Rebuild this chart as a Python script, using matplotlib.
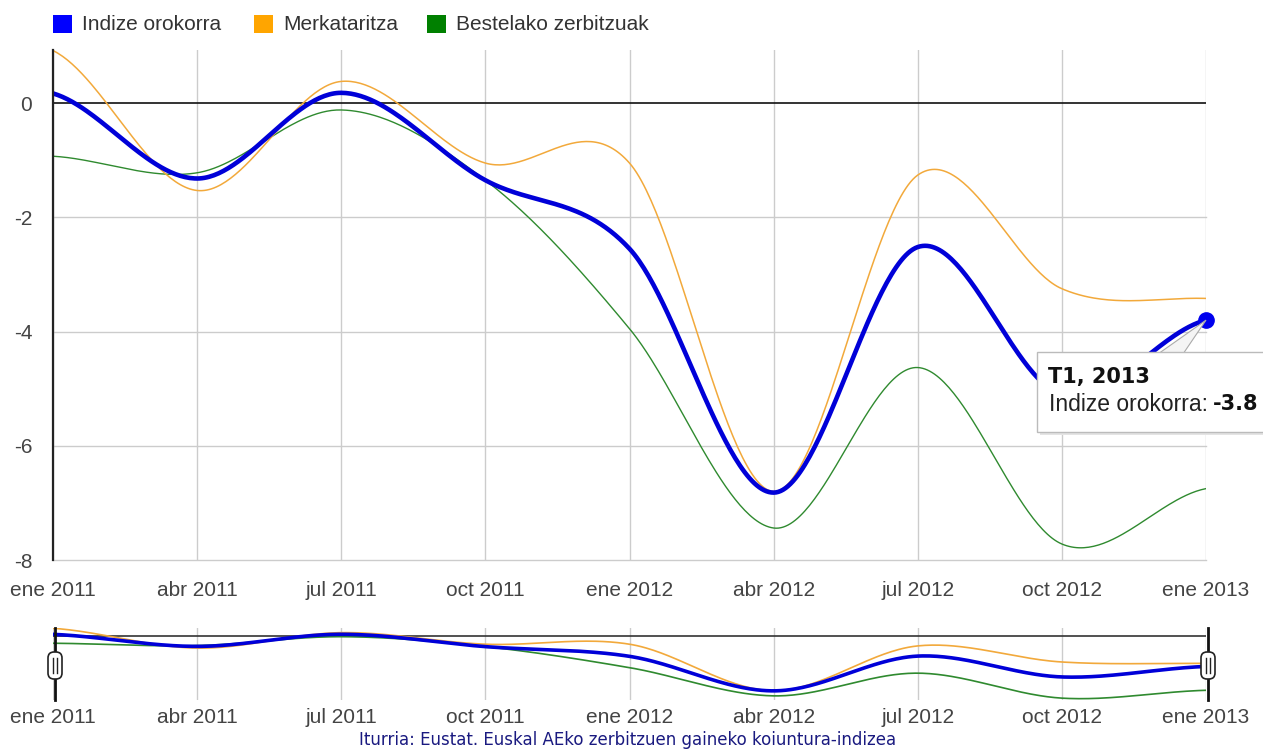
import numpy as np
import matplotlib
matplotlib.use('Agg')
import matplotlib.pyplot as plt
from matplotlib.patches import Rectangle, FancyBboxPatch, Polygon

plt.rcParams['axes.unicode_minus'] = False

# ---------------- data ----------------
quarters = ['ene 2011', 'abr 2011', 'jul 2011', 'oct 2011', 'ene 2012',
            'abr 2012', 'jul 2012', 'oct 2012', 'ene 2013']
indize = [0.17, -1.32, 0.18, -1.35, -2.55, -6.82, -2.52, -5.10, -3.80]
merkataritza = [0.92, -1.53, 0.38, -1.05, -1.05, -6.80, -1.26, -3.25, -3.42]
bestelako = [-0.93, -1.22, -0.12, -1.35, -3.95, -7.44, -4.63, -7.72, -6.75]
series_names = ['Indize orokorra', 'Merkataritza', 'Bestelako zerbitzuak']
yticks = [0, -2, -4, -6, -8]
tooltip_title = 'T1, 2013'
tooltip_value = -3.8
source = 'Iturria: Eustat. Euskal AEko zerbitzuen gaineko koiuntura-indizea'

legend_colors = ['#0000ff', '#ffa500', '#008000']
line_colors = ['#0000d8', '#f2a93b', '#2f8a2f']

W, H = 1263, 753
fig = plt.figure(figsize=(W / 100, H / 100), dpi=100)


def smooth(vals, n=60):
    """Catmull-Rom curve through the data points (like curveType 'function')."""
    y = np.asarray(vals, float)
    k = len(y)
    ext = np.concatenate([[y[0]], y, [y[-1]]])
    xs, ys = [], []
    for i in range(k - 1):
        p0, p1, p2, p3 = ext[i], ext[i + 1], ext[i + 2], ext[i + 3]
        m1 = (p2 - p0) / 2.0
        m2 = (p3 - p1) / 2.0
        t = np.linspace(0, 1, n, endpoint=(i == k - 2))
        h00 = 2 * t**3 - 3 * t**2 + 1
        h10 = t**3 - 2 * t**2 + t
        h01 = -2 * t**3 + 3 * t**2
        h11 = t**3 - t**2
        xs.append(i + t)
        ys.append(h00 * p1 + h10 * m1 + h01 * p2 + h11 * m2)
    return np.concatenate(xs), np.concatenate(ys)


def px_axes(left, top, right, bottom):
    return fig.add_axes([left / W, 1 - bottom / H, (right - left) / W, (bottom - top) / H])


x_idx = np.arange(len(quarters))
ylim = (-8, 0.93)
tick_color = '#444444'
font = 'Liberation Sans'

# ---------------- main chart ----------------
ax = px_axes(53, 50, 1206, 560)
ax.set_xlim(0, len(quarters) - 1)
ax.set_ylim(*ylim)
for xv in x_idx:
    ax.axvline(xv, color='#cccccc', lw=1, zorder=1)
for yv in yticks[1:]:
    ax.axhline(yv, color='#cccccc', lw=1, zorder=1, clip_on=False)
ax.axhline(0, color='#111111', lw=1.2, zorder=2)

all_series = [indize, merkataritza, bestelako]
widths = [3.3, 1.1, 1.0]
zorders = [5, 4, 3]
for vals, c, lw, z in zip(all_series, line_colors, widths, zorders):
    sx, sy = smooth(vals)
    ax.plot(sx, sy, color=c, lw=lw, zorder=z, solid_capstyle='round')

ax.plot([x_idx[-1]], [tooltip_value], 'o', color='#0000ee', ms=11, zorder=20, clip_on=False)

ax.set_xticks(x_idx)
ax.set_xticklabels(quarters)
ax.set_yticks(yticks)
ax.set_yticklabels([str(v) for v in yticks])
ax.tick_params(axis='x', length=0, pad=15, labelsize=15, labelcolor=tick_color)
ax.tick_params(axis='y', length=0, pad=15, labelsize=15, labelcolor=tick_color)
for lab in ax.get_xticklabels() + ax.get_yticklabels():
    lab.set_fontfamily(font)
for s in ['top', 'right', 'bottom']:
    ax.spines[s].set_visible(False)
ax.spines['left'].set_color('#222222')
ax.spines['left'].set_linewidth(1.6)
ax.spines['left'].set_zorder(6)

# ---------------- navigator ----------------
nav = px_axes(53, 628.2, 1206, 700.4)
nav.set_xlim(0, len(quarters) - 1)
nav.set_ylim(*ylim)
for xv in x_idx:
    nav.axvline(xv, color='#cccccc', lw=1, zorder=1)
nav.axhline(0, color='#333333', lw=1.2, zorder=2)
nwidths = [2.6, 1.2, 1.2]
for vals, c, lw, z in zip(all_series, line_colors, nwidths, zorders):
    sx, sy = smooth(vals)
    nav.plot(sx, sy, color=c, lw=lw, zorder=z)
nav.set_xticks(x_idx)
nav.set_xticklabels(quarters)
nav.set_yticks([])
nav.tick_params(axis='x', length=0, pad=5.5, labelsize=15, labelcolor=tick_color)
for lab in nav.get_xticklabels():
    lab.set_fontfamily(font)
for s in nav.spines.values():
    s.set_visible(False)

# ---------------- overlay (pixel coordinates) ----------------
ov = fig.add_axes([0, 0, 1, 1], zorder=50)
ov.set_xlim(0, W)
ov.set_ylim(H, 0)
ov.axis('off')
ov.patch.set_alpha(0)

# legend
leg_x = [53, 254, 427]
for name, c, lx in zip(series_names, legend_colors, leg_x):
    ov.add_patch(Rectangle((lx, 15), 19, 18, color=c, lw=0))
    ov.text(lx + 29, 24, name, fontsize=15, family=font, color='#333333',
            va='center', ha='left')

# navigator handles
for hx in [55, 1208]:
    ov.plot([hx, hx], [628, 700], color='#111111', lw=2, zorder=1)
    ov.add_patch(FancyBboxPatch((hx - 7, 652), 14, 27,
                                boxstyle='round,pad=0,rounding_size=6',
                                fc='white', ec='#222222', lw=1.2, zorder=2))
    ov.plot([hx - 2, hx - 2], [658, 673], color='#222222', lw=1, zorder=3)
    ov.plot([hx + 2, hx + 2], [658, 673], color='#222222', lw=1, zorder=3)

# tooltip
dot_disp = ax.transData.transform((x_idx[-1], tooltip_value))
dot_x, dot_y = dot_disp[0], H - dot_disp[1]
ov.add_patch(Polygon([[1158, 354], [1183, 354], [dot_x, dot_y]], closed=True,
                     fc='#f4f4f4', ec='#aaaaaa', lw=0.8, zorder=4))
ov.add_patch(Rectangle((1040, 355), 260, 80, fc='#e4e4e4', ec='none', zorder=4))
ov.add_patch(Rectangle((1037, 352), 260, 80, fc='white', ec='#bbbbbb', lw=1, zorder=5))
ov.text(1048, 377, tooltip_title, fontsize=15, family='DejaVu Sans', weight='bold',
        color='#111111', va='center', ha='left', zorder=6)
ov.text(1049, 404, series_names[0] + ':', fontsize=16.5, family=font,
        color='#222222', va='center', ha='left', zorder=6)
ov.text(1213, 404, f'{tooltip_value}', fontsize=15, family='DejaVu Sans', weight='bold',
        color='#111111', va='center', ha='left', zorder=6)

# source
ov.text(628, 740, source, fontsize=12, family='DejaVu Sans', color='#1a1a80',
        va='center', ha='center')

fig.savefig('out.png', dpi=100)
